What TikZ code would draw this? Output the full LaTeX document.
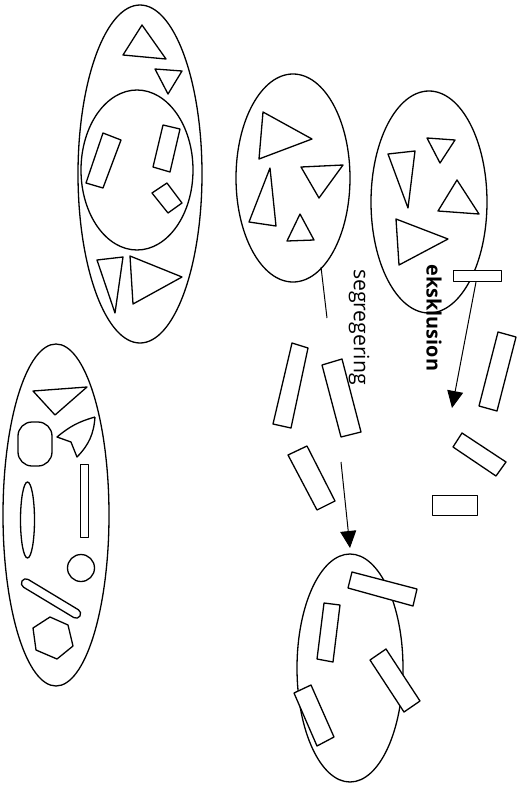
\documentclass[tikz,border=0pt]{standalone}
\usepackage{fontspec}
\setmainfont{Open Sans}
\usetikzlibrary{arrows.meta}
\tikzset{
  outline/.style={draw=black, line width=1.3pt, line join=round},
  piece/.style={outline, fill=white},
  label text/.style={rotate=-90, inner sep=0pt},
  move/.style={draw=black, line width=1pt, -{Triangle[length=17pt,width=16pt]}}
}
\begin{document}
\begin{tikzpicture}[x=1pt,y=-1pt]
\useasboundingbox (0,0) rectangle (525,788);

% --- mixed group: outer ellipse with an inner circle of bars
\draw[outline] (140,174) ellipse [x radius=62, y radius=169];
\draw[outline] (137,170) ellipse [x radius=56, y radius=80];
\draw[outline] (142,25) -- (123,55) -- (166,59) -- cycle;
\draw[outline] (155,69) -- (182,71) -- (168,94) -- cycle;
\draw[outline] (103,133) -- (121,140) -- (103,188) -- (86,183) -- cycle;
\draw[outline] (163,125) -- (180,129) -- (170,172) -- (153,167) -- cycle;
\draw[outline] (152,193) -- (167,183) -- (182,203) -- (168,213) -- cycle;
\draw[outline] (97,260) -- (123,257) -- (115,313) -- cycle;
\draw[outline] (130,256) -- (182,277) -- (133,304) -- cycle;

% --- varied group
\draw[outline] (56,515) ellipse [x radius=53, y radius=171];
\draw[outline] (33,391) -- (87,387) -- (55,415) -- cycle;
\draw[outline, rounded corners=14pt] (18,422) rectangle (52,466);
\draw[outline] (95,417) to[bend right=12] (57,437) -- (71,442) -- (77,457) to[bend right=20] (95,417);
\draw[outline] (80.5,464.5) rectangle (88.5,537.5);
\draw[outline] (27.5,520) ellipse [x radius=7, y radius=38];
\draw[outline] (81,568) circle [radius=13.5];
\draw[outline, rounded corners=4.5pt] (24.3,577.1) -- (82.3,612.1) -- (77.7,619.9) -- (19.7,584.9) -- cycle;
\draw[outline] (50,617) -- (68,625) -- (73,646) -- (57,659) -- (36,650) -- (33,628) -- cycle;

% --- segregated group of triangles
\draw[outline] (293,178) ellipse [x radius=57, y radius=104];
\draw[outline] (263,112) -- (312,139) -- (259,159) -- cycle;
\draw[outline] (301,167) -- (343,165) -- (319,198) -- cycle;
\draw[outline] (270,168) -- (276,226) -- (249,222) -- cycle;
\draw[outline] (300,214) -- (314,240) -- (287,241) -- cycle;
\coordinate (segtail) at (321,267);
\coordinate (segend) at (327,318);
\draw[line width=1pt] (segtail) -- (segend);

% --- excluding group of triangles
\draw[outline] (429,202) ellipse [x radius=58, y radius=111];
\draw[outline] (427,138) -- (455,140) -- (440,163) -- cycle;
\draw[outline] (388,154) -- (415,151) -- (408,208) -- cycle;
\draw[outline] (457,180) -- (479,214) -- (438,211) -- cycle;
\draw[outline] (396,219) -- (448,239) -- (399,265) -- cycle;
\draw[piece] (453.5,270.5) rectangle (501.5,281.5);

% --- exclusion arrow and label
\coordinate (exstart) at (476,282);
\coordinate (exend) at (452,408);
\draw[move] (exstart) -- (exend);
\node[label text, font=\fontsize{19.8}{22}\selectfont\bfseries] (exlabel) at (434,318) {eksklusion};

% --- segregation label and arrow
\node[label text, font=\fontsize{21.2}{24}\selectfont] (seglabel) at (359,327) {segregering};
\coordinate (sgstart) at (341,462);
\coordinate (sgend) at (350,548);
\draw[move] (sgstart) -- (sgend);

% --- loose bars between the groups
\draw[piece] (292,343) -- (308,348) -- (291,428) -- (273,424) -- cycle;
\draw[piece] (322,365) -- (342,359) -- (361,432) -- (341,437) -- cycle;
\draw[piece] (288,455) -- (307,446) -- (335,501) -- (317,510) -- cycle;
\draw[piece] (498,332) -- (516,337) -- (497,411) -- (479,406) -- cycle;
\draw[piece] (462,433) -- (506,462) -- (496,476) -- (453,447) -- cycle;
\draw[piece] (432.5,495.5) rectangle (477.5,515.5);

% --- gathered group of bars
\draw[outline] (350,668) ellipse [x radius=53, y radius=114];
\draw[piece] (352,572) -- (417,589) -- (413,606) -- (348,588) -- cycle;
\draw[piece] (324,603) -- (340,605) -- (333,662) -- (317,659) -- cycle;
\draw[piece] (370,660) -- (386,649) -- (420,701) -- (404,712) -- cycle;
\draw[piece] (294,693) -- (311,685) -- (334,737) -- (317,746) -- cycle;
\end{tikzpicture}
\end{document}
